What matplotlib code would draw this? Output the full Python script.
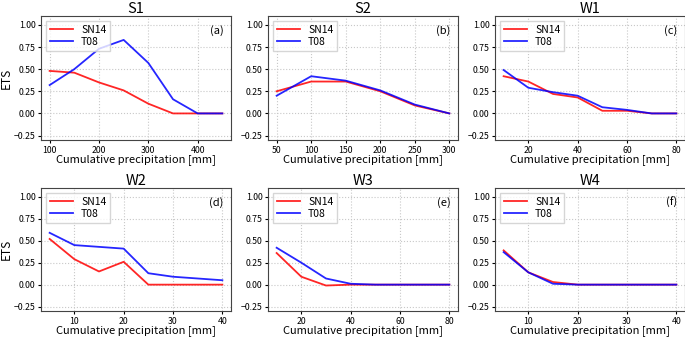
import numpy as np
import matplotlib
matplotlib.use("Agg")
import matplotlib.pyplot as plt

plt.rcParams['font.family'] = ['Noto Sans CJK JP', 'DejaVu Sans']

titles = ["S1", "S2", "W1", "W2", "W3", "W4"]
labels = ["(a)", "(b)", "(c)", "(d)", "(e)", "(f)"]

x_s1 = [100, 150, 200, 250, 300, 350, 400, 450]
sn14_s1 = [0.48, 0.46, 0.35, 0.26, 0.11, 0.0, 0.0, 0.0]
t08_s1 = [0.32, 0.50, 0.73, 0.83, 0.57, 0.16, 0.0, 0.0]

x_s2 = [50, 100, 150, 200, 250, 300]
sn14_s2 = [0.25, 0.36, 0.36, 0.25, 0.09, 0.0]
t08_s2 = [0.20, 0.42, 0.37, 0.26, 0.10, 0.0]

x_w1 = [10, 20, 30, 40, 50, 60, 70, 80]
sn14_w1 = [0.42, 0.36, 0.22, 0.18, 0.03, 0.03, 0.0, 0.0]
t08_w1 = [0.49, 0.29, 0.24, 0.20, 0.07, 0.04, 0.0, 0.0]

x_w2 = [5, 10, 15, 20, 25, 30, 35, 40]
sn14_w2 = [0.52, 0.29, 0.15, 0.26, 0.0, 0.0, 0.0, 0.0]
t08_w2 = [0.59, 0.45, 0.43, 0.41, 0.13, 0.09, 0.07, 0.05]

x_w3 = [10, 20, 30, 40, 50, 60, 70, 80]
sn14_w3 = [0.36, 0.09, -0.01, 0.0, 0.0, 0.0, 0.0, 0.0]
t08_w3 = [0.42, 0.25, 0.07, 0.01, 0.0, 0.0, 0.0, 0.0]

x_w4 = [5, 10, 15, 20, 25, 30, 35, 40]
sn14_w4 = [0.39, 0.14, 0.03, 0.0, 0.0, 0.0, 0.0, 0.0]
t08_w4 = [0.37, 0.14, 0.01, 0.0, 0.0, 0.0, 0.0, 0.0]

xs = [x_s1, x_s2, x_w1, x_w2, x_w3, x_w4]
sn14 = [sn14_s1, sn14_s2, sn14_w1, sn14_w2, sn14_w3, sn14_w4]
t08 = [t08_s1, t08_s2, t08_w1, t08_w2, t08_w3, t08_w4]
xticks = [[100, 200, 300, 400], [50, 100, 150, 200, 250, 300],
          [20, 40, 60, 80], [10, 20, 30, 40], [20, 40, 60, 80], [10, 20, 30, 40]]

fig = plt.figure(figsize=(6.85, 3.37), dpi=100)
W, H = 685.0, 337.0
lefts = [41, 268, 495]
rows = [(16, 140), (188, 311)]

for i in range(6):
    r, c = divmod(i, 3)
    top, bot = rows[r]
    ax = fig.add_axes([lefts[c] / W, 1 - bot / H, 190 / W, (bot - top) / H])
    ax.plot(xs[i], sn14[i], color="red", alpha=0.85, lw=1.3, label="SN14")
    ax.plot(xs[i], t08[i], color="blue", alpha=0.85, lw=1.3, label="T08")
    ax.set_ylim(-0.3, 1.1)
    ax.set_yticks([-0.25, 0, 0.25, 0.5, 0.75, 1.0])
    ax.set_xticks(xticks[i])
    ax.tick_params(labelsize=6.3, length=2.5, pad=1.5)
    ax.grid(True, ls=":", color="#c8c8c8", lw=0.8)
    ax.set_title(titles[i], fontsize=10.5, pad=1.5)
    ax.set_xlabel("Cumulative precipitation [mm]", fontsize=8, labelpad=0)
    ax.text(0.96, 0.93, labels[i], transform=ax.transAxes, ha="right", va="top", fontsize=8)
    ax.legend(loc="upper left", fontsize=7.5, handlelength=2.2, borderpad=0.35,
              labelspacing=0.2, fancybox=False, framealpha=0.8, edgecolor="#cccccc")
    for s in ax.spines.values():
        s.set_color("#444444")
    if c == 0:
        ax.set_ylabel("ETS", fontsize=8.5, labelpad=1)

plt.savefig("out.png", dpi=100)
